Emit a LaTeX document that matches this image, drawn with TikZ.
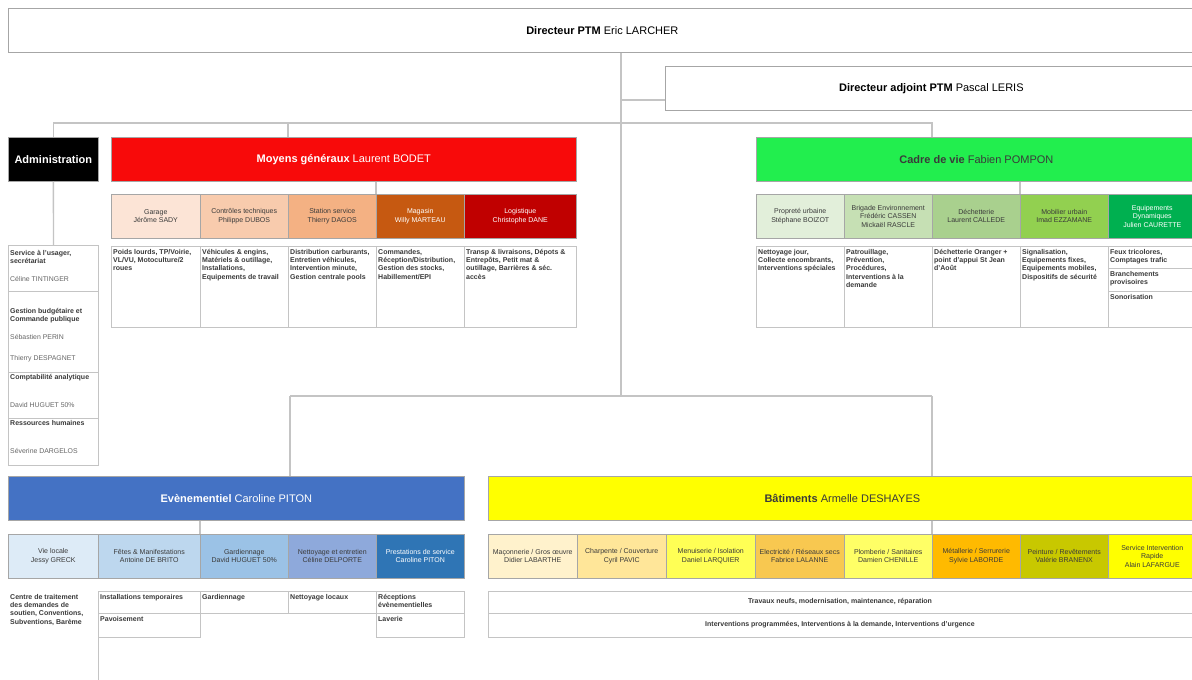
\documentclass[tikz,border=0pt]{standalone}
\usepackage{fontspec}
\setmainfont{Liberation Sans}
\definecolor{lgray}{HTML}{C4C4C4}
\definecolor{bgray}{HTML}{A6A6A6}
\definecolor{tdark}{HTML}{3A3A3A}
\definecolor{cred}{HTML}{F80A0A}
\definecolor{cgreen}{HTML}{22EE4E}
\definecolor{cblue}{HTML}{4472C4}
\definecolor{cyel}{HTML}{FFFF00}
\definecolor{gar}{HTML}{FCE4D6}\definecolor{ctl}{HTML}{F8CBAD}\definecolor{sta}{HTML}{F4B183}
\definecolor{mag}{HTML}{C65911}\definecolor{lgq}{HTML}{C00000}
\definecolor{pro}{HTML}{E2EFDA}\definecolor{bri}{HTML}{C6E0B4}\definecolor{dec}{HTML}{A9D08E}
\definecolor{mob}{HTML}{92D050}\definecolor{equ}{HTML}{00B050}
\definecolor{vie}{HTML}{DDEBF7}\definecolor{fet}{HTML}{BDD7EE}\definecolor{gdn}{HTML}{9BC2E6}
\definecolor{net}{HTML}{8EA9DB}\definecolor{pre}{HTML}{2F75B5}
\definecolor{mac}{HTML}{FFF2CC}\definecolor{cha}{HTML}{FFE699}\definecolor{men}{HTML}{FFFF55}
\definecolor{ele}{HTML}{F8C850}\definecolor{plo}{HTML}{FFFF66}\definecolor{met}{HTML}{FFBA00}
\definecolor{pei}{HTML}{C8C800}\definecolor{sir}{HTML}{FFFF00}
\newcommand\bx[7]{\node[#1, minimum width=#5pt, minimum height=#6pt] (#2) at (#3,#4) {#7};}
\newcommand\dtx[4]{\node[dtxt] (#1) at (#2,#3) {#4};}
\begin{document}
\begin{tikzpicture}[x=1pt,y=-1pt,
  conn/.style={draw=lgray, line width=1.3pt},
  hdr/.style={draw=bgray, line width=0.7pt, anchor=north west, inner sep=0pt, align=center, font=\fontsize{11}{13}\selectfont},
  sub/.style={draw=bgray, line width=0.5pt, anchor=north west, inner sep=0pt, align=center, font=\fontsize{7}{8.4}\selectfont, text=tdark},
  desc/.style={draw=lgray, line width=0.9pt, anchor=north west, inner sep=0pt},
  dtxt/.style={anchor=north west, inner sep=0pt, align=left, font=\bfseries\fontsize{7}{8.3}\selectfont, text=tdark},
  ntxt/.style={anchor=north west, inner sep=0pt, align=left, font=\fontsize{6.9}{8}\selectfont, text=gray!80!black},
  ctxt/.style={anchor=center, inner sep=0pt, font=\bfseries\fontsize{7}{8}\selectfont, text=tdark}]
\useasboundingbox[fill=white] (0,0) rectangle (1192,680);

% headers
\bx{hdr}{dir}{8}{8}{1188}{44}{\textbf{Directeur PTM} Eric LARCHER}
\bx{hdr}{adj}{665}{66}{532}{44}{\textbf{Directeur adjoint PTM} Pascal LERIS}
\bx{hdr,fill=black,text=white}{adm}{8}{137}{90}{44}{\textbf{Administration}}
\bx{hdr,fill=cred,text=white}{moy}{111}{137}{465}{44}{\textbf{Moyens généraux} Laurent BODET}
\bx{hdr,fill=cgreen,text=tdark}{cad}{756}{137}{440}{44}{\textbf{Cadre de vie} Fabien POMPON}
\bx{hdr,fill=cblue,text=white}{evt}{8}{476}{456}{44}{\textbf{Evènementiel} Caroline PITON}
\bx{hdr,fill=cyel,text=tdark}{bat}{488}{476}{708}{44}{\textbf{Bâtiments} Armelle DESHAYES}

% connector points
\coordinate (j1) at (621,100);
\coordinate (j2) at (621,123);
\coordinate (j3) at (621,396);
\coordinate (mdrop) at (288,123);
\coordinate (cdrop) at (932,123);
\coordinate (edrop) at (290,396);
\coordinate (bdrop) at (932,396);

% connectors
\draw[conn] (dir.south -| j1) -- (j3);
\draw[conn] (j1) -- (adj.west |- j1);
\draw[conn] (adm.north) |- (cdrop) -- (cdrop |- cad.north);
\draw[conn] (mdrop) -- (mdrop |- moy.north);
\draw[conn] (edrop) -- (bdrop);
\draw[conn] (edrop) -- (edrop |- evt.north);
\draw[conn] (bdrop) -- (bdrop |- bat.north);

% Administration column
\bx{desc}{lc}{8}{245}{90}{220}{}
\draw[conn] (adm.south) -- (lc.north);
\draw[draw=lgray, line width=0.9pt] (8,291) -- (98,291) (8,372) -- (98,372) (8,418) -- (98,418);
\dtx{l1}{10}{250}{Service à l'usager,\\secrétariat}
\node[ntxt] (l2) at (10,276) {Céline TINTINGER};
\dtx{l3}{10}{308}{Gestion budgétaire et\\Commande publique}
\node[ntxt] (l4) at (10,334) {Sébastien PERIN};
\node[ntxt] (l5) at (10,355) {Thierry DESPAGNET};
\dtx{l6}{10}{374}{Comptabilité analytique}
\node[ntxt] (l7) at (10,402) {David HUGUET 50\%};
\dtx{l8}{10}{420}{Ressources humaines}
\node[ntxt] (l9) at (10,448) {Séverine DARGELOS};

% Moyens généraux
\bx{sub,fill=gar}{m1}{111}{194}{89}{44}{Garage\\Jérôme SADY}
\bx{sub,fill=ctl}{m2}{200}{194}{88}{44}{Contrôles techniques\\Philippe DUBOS}
\bx{sub,fill=sta}{m3}{288}{194}{88}{44}{Station service\\Thierry DAGOS}
\bx{sub,fill=mag,text=white}{m4}{376}{194}{88}{44}{Magasin\\Willy MARTEAU}
\bx{sub,fill=lgq,text=white}{m5}{464}{194}{112}{44}{Logistique\\Christophe DANE}
\coordinate (mc) at (376,188);
\draw[conn] (mc |- moy.south) -- (m4.north west);
\bx{desc}{md1}{111}{246}{89}{81}{}
\bx{desc}{md2}{200}{246}{88}{81}{}
\bx{desc}{md3}{288}{246}{88}{81}{}
\bx{desc}{md4}{376}{246}{88}{81}{}
\bx{desc}{md5}{464}{246}{112}{81}{}
\dtx{mt1}{113}{249}{Poids lourds, TP/Voirie,\\VL/VU, Motoculture/2\\roues}
\dtx{mt2}{202}{249}{Véhicules \& engins,\\Matériels \& outillage,\\Installations,\\Equipements de travail}
\dtx{mt3}{290}{249}{Distribution carburants,\\Entretien véhicules,\\Intervention minute,\\Gestion centrale pools}
\dtx{mt4}{378}{249}{Commandes,\\Réception/Distribution,\\Gestion des stocks,\\Habillement/EPI}
\dtx{mt5}{466}{249}{Transp \& livraisons, Dépots \&\\Entrepôts, Petit mat \&\\outillage, Barrières \& séc.\\accès}

% Cadre de vie
\bx{sub,fill=pro}{c1}{756}{194}{88}{44}{Propreté urbaine\\Stéphane BOIZOT}
\bx{sub,fill=bri}{c2}{844}{194}{88}{44}{Brigade Environnement\\Frédéric CASSEN\\Mickaël RASCLE}
\bx{sub,fill=dec}{c3}{932}{194}{88}{44}{Déchetterie\\Laurent CALLEDE}
\bx{sub,fill=mob}{c4}{1020}{194}{88}{44}{Mobilier urbain\\Imad EZZAMANE}
\bx{sub,fill=equ,text=white}{c5}{1108}{194}{88}{44}{Equipements\\Dynamiques\\Julien CAURETTE}
\draw[conn] (c4.north west |- cad.south) -- (c4.north west);
\bx{desc}{cd1}{756}{246}{88}{81}{}
\bx{desc}{cd2}{844}{246}{88}{81}{}
\bx{desc}{cd3}{932}{246}{88}{81}{}
\bx{desc}{cd4}{1020}{246}{88}{81}{}
\bx{desc}{cd5}{1108}{246}{88}{22}{}
\bx{desc}{cd6}{1108}{268}{88}{23}{}
\bx{desc}{cd7}{1108}{291}{88}{36}{}
\dtx{ct1}{758}{249}{Nettoyage jour,\\Collecte encombrants,\\Interventions spéciales}
\dtx{ct2}{846}{249}{Patrouillage,\\Prévention,\\Procédures,\\Interventions à la\\demande}
\dtx{ct3}{934}{249}{Déchetterie Oranger +\\point d'appui St Jean\\d'Août}
\dtx{ct4}{1022}{249}{Signalisation,\\Equipements fixes,\\Equipements mobiles,\\Dispositifs de sécurité}
\dtx{ct5}{1110}{249}{Feux tricolores,\\Comptages trafic}
\dtx{ct6}{1110}{271}{Branchements\\provisoires}
\dtx{ct7}{1110}{294}{Sonorisation}

% Evenementiel
\bx{sub,fill=vie}{e1}{8}{534}{90}{44}{Vie locale\\Jessy GRECK}
\bx{sub,fill=fet}{e2}{98}{534}{102}{44}{Fêtes \& Manifestations\\Antoine DE BRITO}
\bx{sub,fill=gdn}{e3}{200}{534}{88}{44}{Gardiennage\\David HUGUET 50\%}
\bx{sub,fill=net}{e4}{288}{534}{88}{44}{Nettoyage et entretien\\Céline DELPORTE}
\bx{sub,fill=pre,text=white}{e5}{376}{534}{88}{44}{Prestations de service\\Caroline PITON}
\draw[conn] (e3.north west |- evt.south) -- (e3.north west);
\dtx{et1}{10}{594}{Centre de traitement\\des demandes de\\soutien, Conventions,\\Subventions, Barème}
\bx{desc}{ed2}{98}{591}{102}{22}{}
\bx{desc}{ed3}{98}{613}{102}{24}{}
\bx{desc}{ed4}{200}{591}{88}{22}{}
\bx{desc}{ed5}{288}{591}{88}{22}{}
\bx{desc}{ed6}{376}{591}{88}{22}{}
\bx{desc}{ed7}{376}{613}{88}{24}{}
\coordinate (ebot) at (98,680);
\draw[draw=lgray, line width=0.9pt] (ed3.south west) -- (ebot);
\dtx{et2}{100}{594}{Installations temporaires}
\dtx{et3}{100}{616}{Pavoisement}
\dtx{et4}{202}{594}{Gardiennage}
\dtx{et5}{290}{594}{Nettoyage locaux}
\dtx{et6}{378}{594}{Réceptions\\évènementielles}
\dtx{et7}{378}{616}{Laverie}

% Batiments
\bx{sub,fill=mac}{b1}{488}{534}{89}{44}{Maçonnerie / Gros œuvre\\Didier LABARTHE}
\bx{sub,fill=cha}{b2}{577}{534}{89}{44}{Charpente / Couverture\\Cyril PAVIC}
\bx{sub,fill=men}{b3}{666}{534}{89}{44}{Menuiserie / Isolation\\Daniel LARQUIER}
\bx{sub,fill=ele}{b4}{755}{534}{89}{44}{Electricité / Réseaux secs\\Fabrice LALANNE}
\bx{sub,fill=plo}{b5}{844}{534}{88}{44}{Plomberie / Sanitaires\\Damien CHENILLE}
\bx{sub,fill=met}{b6}{932}{534}{88}{44}{Métallerie / Serrurerie\\Sylvie LABORDE}
\bx{sub,fill=pei}{b7}{1020}{534}{88}{44}{Peinture / Revêtements\\Valérie BRANENX}
\bx{sub,fill=sir}{b8}{1108}{534}{88}{44}{Service Intervention\\Rapide\\Alain LAFARGUE}
\draw[conn] (b6.north west |- bat.south) -- (b6.north west);
\bx{desc}{bd1}{488}{591}{708}{22}{}
\bx{desc}{bd2}{488}{613}{708}{24}{}
\node[ctxt] (bt1) at (840,602) {Travaux neufs, modernisation, maintenance, réparation};
\node[ctxt] (bt2) at (840,625) {Interventions programmées, Interventions à la demande, Interventions d'urgence};
\end{tikzpicture}
\end{document}
